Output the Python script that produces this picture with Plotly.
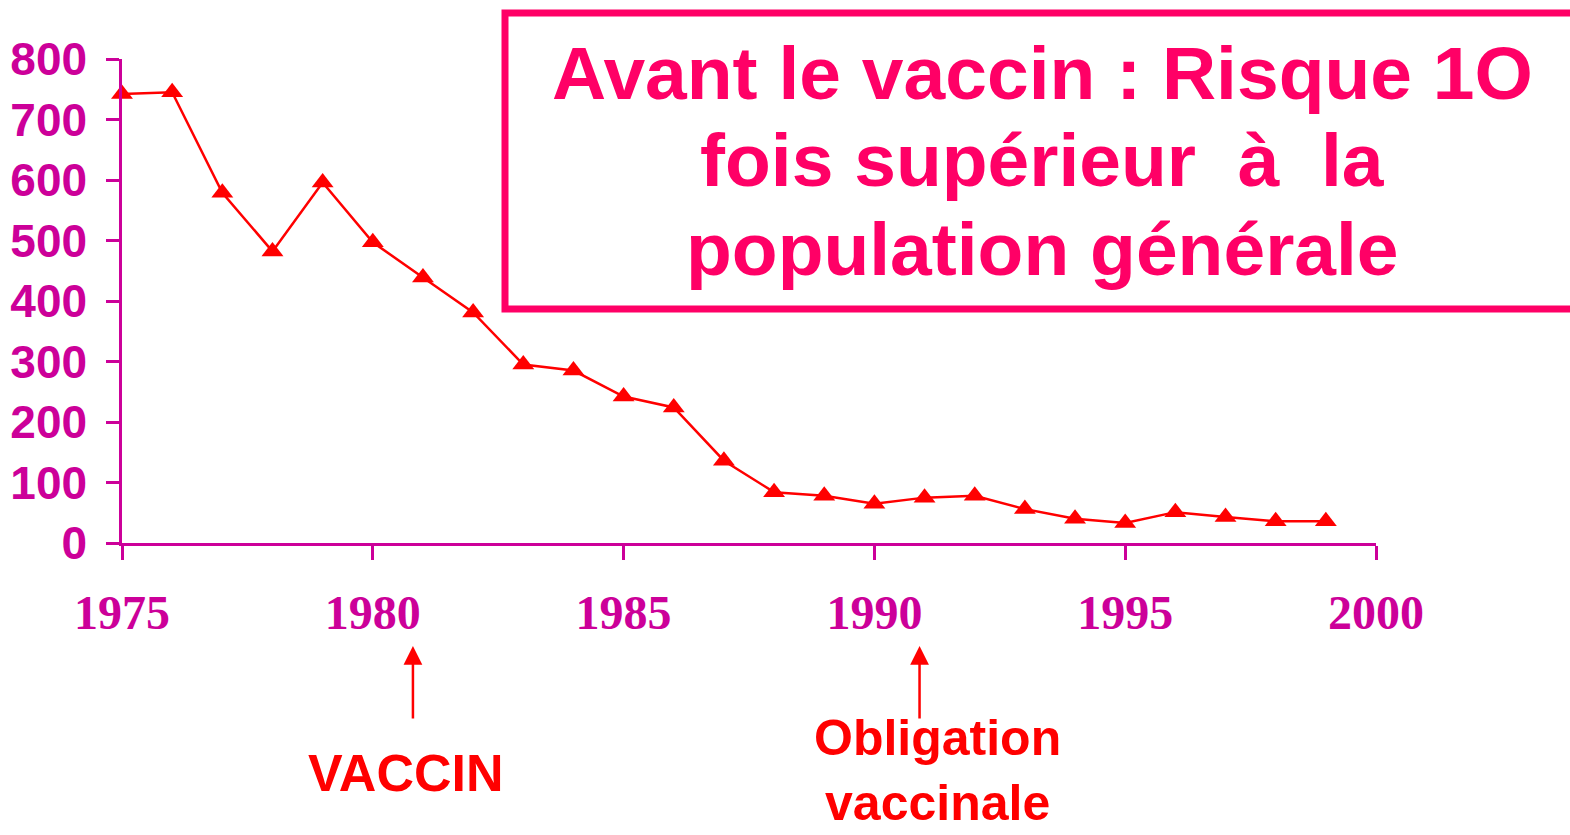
import plotly.graph_objects as go

# ---- data ----
years = list(range(1975, 2000))
cases = [742, 745, 579, 482, 596, 497, 439, 381, 295, 285, 242, 224, 136,
         84, 78, 65, 75, 78, 56, 40, 33, 51, 43, 36, 36]
x_tick_vals = [1975, 1980, 1985, 1990, 1995, 2000]
x_tick_text = ["1975", "1980", "1985", "1990", "1995", "2000"]
y_tick_vals = [0, 100, 200, 300, 400, 500, 600, 700, 800]
event_years = [1980.8, 1990.9]
event_labels = ["VACCIN", "Obligation<br>vaccinale"]
box_lines = ["Avant le vaccin : Risque 1O",
             "fois supérieur  à  la",
             "population générale"]

MAG = "#CC0099"
PINK = "#FF0066"
RED = "#FF0000"

W, H = 1570, 835
L, R, T, B = 122, 194, 59, 292
pw, ph = W - L - R, H - T - B


def px_x(p):
    return (p - L) / pw


def px_y(p):
    return (H - B - p) / ph


fig = go.Figure()
fig.add_trace(go.Scatter(
    x=years, y=cases, mode="lines+markers",
    line=dict(color=RED, width=2.5),
    marker=dict(symbol="triangle-up", size=19, color=RED),
    showlegend=False, cliponaxis=False, hoverinfo="skip",
))

annotations = []
# title box text
for txt, yc in zip(box_lines, [73, 160, 249]):
    annotations.append(dict(
        x=px_x(1042), y=px_y(yc), xref="paper", yref="paper",
        text=f"<b>{txt}</b>", showarrow=False, xanchor="center", yanchor="middle",
        font=dict(family="Liberation Sans, Arial", size=75, color=PINK),
    ))

# event arrows
for yr in event_years:
    annotations.append(dict(
        x=yr, y=px_y(646), xref="x", yref="paper",
        ax=0, ay=74, axref="pixel", ayref="pixel",
        text="", showarrow=True, arrowhead=2, arrowsize=1.5, arrowwidth=2.5,
        arrowcolor=RED,
    ))

# event labels
label_specs = [(-0.15, 773, "middle", 52), (0.35, 833, "bottom", 50)]
for yr, txt, (dx, yp, anchor, fs) in zip(event_years, event_labels, label_specs):
    bold = "<br>".join(f"<b>{t}</b>" for t in txt.split("<br>"))
    annotations.append(dict(
        x=yr + dx, y=px_y(yp), xref="x", yref="paper",
        text=bold, showarrow=False, xanchor="center", yanchor=anchor,
        font=dict(family="Liberation Sans, Arial", size=fs, color=RED),
    ))

fig.update_layout(
    width=W, height=H,
    margin=dict(l=L, r=R, t=T, b=B, pad=0, autoexpand=False),
    paper_bgcolor="white", plot_bgcolor="white",
    xaxis=dict(
        range=[1975, 2000], tickmode="array", tickvals=x_tick_vals, ticktext=x_tick_text,
        showgrid=False, zeroline=False, showline=True, linecolor=MAG, linewidth=2.5,
        ticks="outside", ticklen=14, tickwidth=2.5, tickcolor=MAG, automargin=False,
        tickfont=dict(family="Liberation Serif, Times New Roman", size=48, color=MAG, weight="bold"),
        ticklabelstandoff=12,
    ),
    yaxis=dict(
        range=[0, 800], tickmode="array", tickvals=y_tick_vals,
        showgrid=False, zeroline=False, showline=True, linecolor=MAG, linewidth=2.5,
        ticks="outside", ticklen=13, tickwidth=2.5, tickcolor=MAG, automargin=False,
        tickfont=dict(family="Liberation Sans, Arial", size=46, color=MAG, weight="bold"),
        ticklabelstandoff=10,
    ),
    shapes=[dict(
        type="rect", xref="paper", yref="paper",
        x0=px_x(505), x1=px_x(1600), y0=px_y(309), y1=px_y(13),
        line=dict(color=PINK, width=7), fillcolor="rgba(0,0,0,0)",
    )],
    annotations=annotations,
)

fig.write_html("out.html", config={"displayModeBar": False},
               post_script="document.body.style.margin='0';document.body.style.overflow='hidden';")
